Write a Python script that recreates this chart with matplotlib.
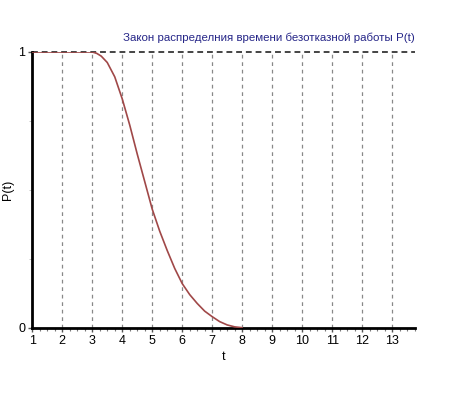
import matplotlib
matplotlib.use("Agg")
import matplotlib.pyplot as plt
from matplotlib.ticker import MultipleLocator

plt.rcParams['font.family'] = ['Liberation Sans', 'DejaVu Sans']

t = [1, 3, 3.15, 3.3, 3.5, 3.75, 4, 4.25, 4.5, 4.75, 5, 5.25, 5.5, 5.75, 6,
     6.25, 6.5, 6.75, 7, 7.25, 7.5, 7.75, 8]
P = [1, 1, 0.995, 0.985, 0.962, 0.91, 0.83, 0.735, 0.63, 0.53, 0.43, 0.35,
     0.28, 0.215, 0.16, 0.12, 0.088, 0.06, 0.04, 0.022, 0.01, 0.003, 0]
xticks = list(range(1, 14))
yticks = [0, 1]
title = "Закон распределния времени безотказной работы P(t)"

fig = plt.figure(figsize=(4.61, 3.96), dpi=100)
ax = fig.add_axes([0.070, 0.1725, 0.830, 0.6962])
ax.set_xlim(1, 13.76)
ax.set_ylim(0, 1)

for x in xticks[1:]:
    ax.axvline(x, color='#888888', lw=0.9, ls=(0, (3, 3)), zorder=1)
ax.axhline(1, color='#444444', lw=1.4, ls=(0, (3, 2)), zorder=1, clip_on=False)

ax.plot(t, P, color='#a04848', lw=1.2, zorder=3, solid_capstyle='round',
        solid_joinstyle='round')

for s in ['top', 'right']:
    ax.spines[s].set_visible(False)
for s in ['left', 'bottom']:
    ax.spines[s].set_linewidth(2)
    ax.spines[s].set_color('black')

ax.set_xticks(xticks)
ax.set_yticks(yticks)
ax.xaxis.set_minor_locator(MultipleLocator(0.25))
ax.yaxis.set_minor_locator(MultipleLocator(0.25))
ax.tick_params(axis='both', which='major', length=3, width=1, color='#555555',
               labelsize=9, pad=2)
ax.tick_params(axis='y', which='minor', length=2, width=0.6, color='#bbbbbb')
ax.tick_params(axis='x', which='minor', length=2, width=0.8, color='#777777')

ax.set_xlabel('t', fontsize=9, labelpad=3)
ax.set_ylabel('P(t)', fontsize=9)
ax.yaxis.set_label_coords(-0.047, 0.5)

fig.text(0.900, 0.904, title, ha='right', va='center', fontsize=8.25,
         color='#262688')

fig.savefig('out.png', dpi=100)
